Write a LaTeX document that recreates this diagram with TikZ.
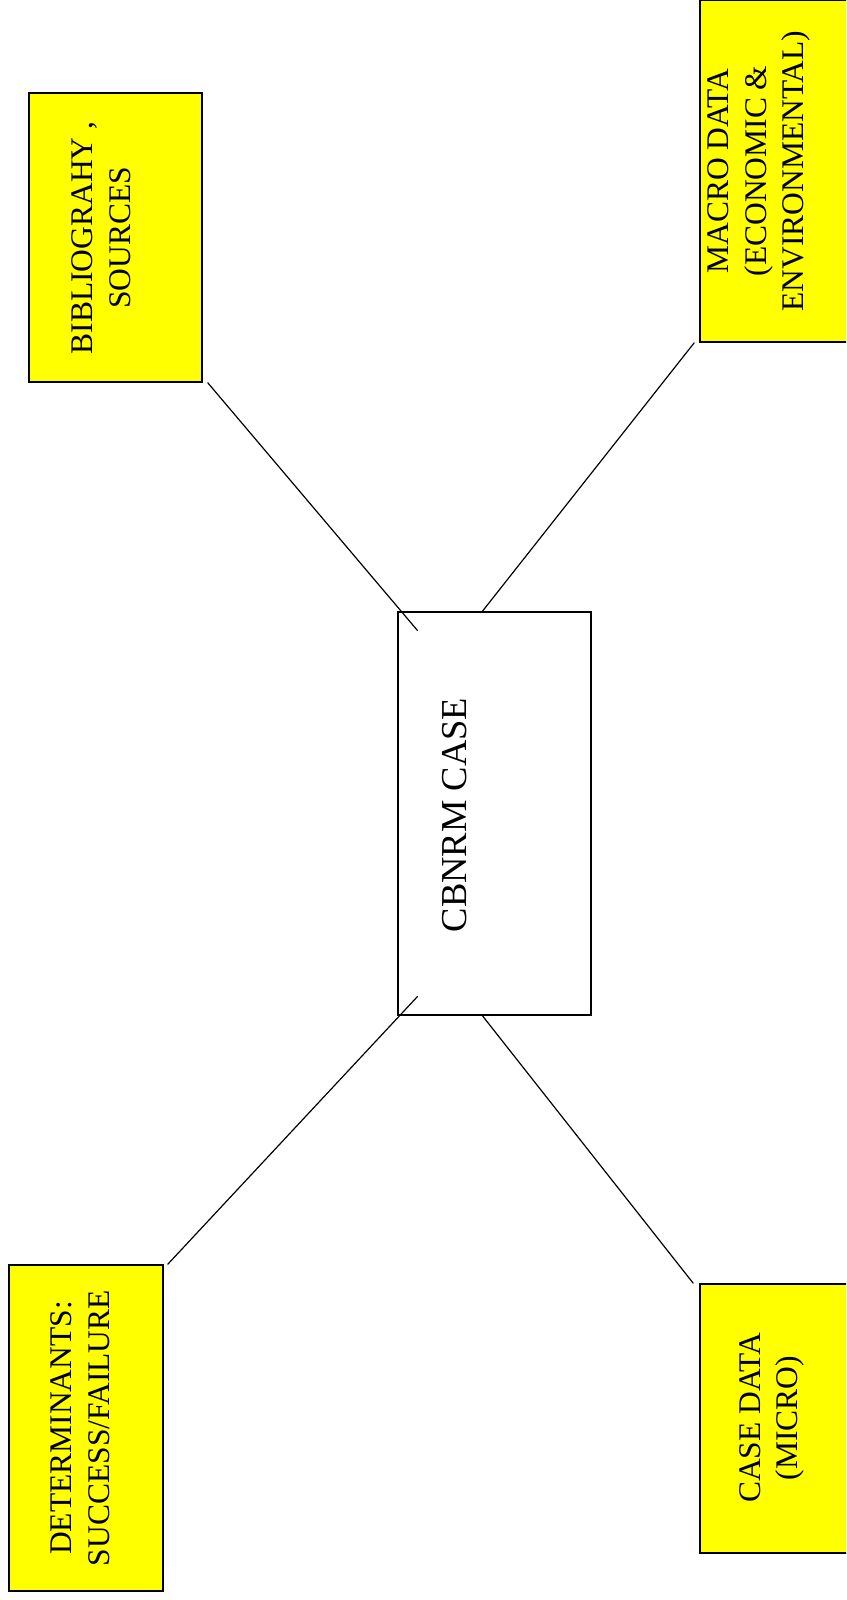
\documentclass[tikz,border=0pt]{standalone}
\usepackage{fontspec}
\setmainfont{Liberation Serif}
\usetikzlibrary{positioning, calc}
\definecolor{boxyellow}{RGB}{255,255,0}
\tikzset{every node/.append style={align=center, inner sep=0pt}}

\begin{document}
\begin{tikzpicture}[x=1pt, y=-1pt,
    box/.style={rectangle, draw=black, line width=1.6pt, fill=boxyellow, minimum width=173pt},
    hub/.style={box, fill=white, line width=1.3pt, minimum width=193pt, minimum height=403pt},
    lbl/.style={rotate=90, font=\fontsize{31.5}{37.5}\selectfont},
    link/.style={line width=1.2pt, line cap=round}]
\clip (0,0) rectangle (846,1600);
\node[hub] (cbnrm) at (494.5,813.5) {};
\node[box, minimum height=289pt] (bib) at (115.5,237.5) {};
\node[box, minimum height=342pt] (macro) at (786.5,171) {};
\node[box, minimum width=154pt, minimum height=326pt] (det) at (86,1428) {};
\node[box, minimum height=269pt] (casedata) at (786.5,1418.5) {};
\node[lbl, font=\fontsize{36.5}{43}\selectfont] (cbnrmtxt) at (455,815) {CBNRM CASE};
\node[lbl] (bibtxt) at (101,238) {BIBLIOGRAHY ,\\SOURCES};
\node[lbl] (macrotxt) at (759,171) {MACRO DATA\\(ECONOMIC \&\\ENVIRONMENTAL)};
\node[lbl] (dettxt) at (80,1428) {DETERMINANTS:\\SUCCESS/FAILURE};
\node[lbl] (casetxt) at (772,1418) {CASE DATA\\(MICRO)};
\draw[link] ($(cbnrm.north west)+(20,19)$) -- ($(bib.south east)+(5,0)$);
\draw[link] ($(cbnrm.north west)+(85,0)$) -- ($(macro.south west)+(-5,0)$);
\draw[link] ($(cbnrm.south west)+(20,-19)$) -- ($(det.north east)+(4,0)$);
\draw[link] ($(cbnrm.south west)+(85,0)$) -- ($(casedata.north west)+(-6,0)$);
\end{tikzpicture}
\end{document}
